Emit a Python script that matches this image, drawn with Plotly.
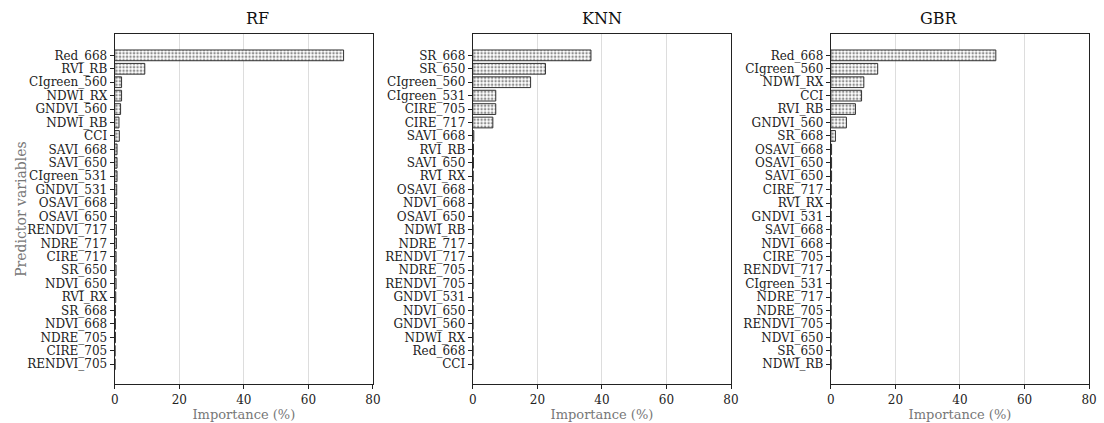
import plotly.graph_objects as go

rf_vars = ["Red_668", "RVI_RB", "CIgreen_560", "NDWI_RX", "GNDVI_560", "NDWI_RB", "CCI",
           "SAVI_668", "SAVI_650", "CIgreen_531", "GNDVI_531", "OSAVI_668", "OSAVI_650",
           "RENDVI_717", "NDRE_717", "CIRE_717", "SR_650", "NDVI_650", "RVI_RX", "SR_668",
           "NDVI_668", "NDRE_705", "CIRE_705", "RENDVI_705"]
rf_vals = [70.9, 9.3, 2.1, 2.1, 1.8, 1.3, 1.4, 0.7, 0.7, 0.7, 0.6, 0.6, 0.5, 0.5, 0.5,
           0.4, 0.4, 0.4, 0.3, 0.2, 0.2, 0.2, 0.1, 0.1]

knn_vars = ["SR_668", "SR_650", "CIgreen_560", "CIgreen_531", "CIRE_705", "CIRE_717",
            "SAVI_668", "RVI_RB", "SAVI_650", "RVI_RX", "OSAVI_668", "NDVI_668", "OSAVI_650",
            "NDWI_RB", "NDRE_717", "RENDVI_717", "NDRE_705", "RENDVI_705", "GNDVI_531",
            "NDVI_650", "GNDVI_560", "NDWI_RX", "Red_668", "CCI"]
knn_vals = [36.6, 22.5, 17.9, 7.1, 7.1, 6.2, 0.3, 0.2, 0.2, 0.1, 0.1, 0.1, 0.1, 0.05,
            0.05, 0.05, 0.05, 0.05, 0.05, 0.05, 0.05, 0.05, 0.05, 0.05]

gbr_vars = ["Red_668", "CIgreen_560", "NDWI_RX", "CCI", "RVI_RB", "GNDVI_560", "SR_668",
            "OSAVI_668", "OSAVI_650", "SAVI_650", "CIRE_717", "RVI_RX", "GNDVI_531",
            "SAVI_668", "NDVI_668", "CIRE_705", "RENDVI_717", "CIgreen_531", "NDRE_717",
            "NDRE_705", "RENDVI_705", "NDVI_650", "SR_650", "NDWI_RB"]
gbr_vals = [51.1, 14.5, 10.2, 9.5, 7.6, 4.8, 1.4, 0.2, 0.2, 0.2, 0.1, 0.1, 0.1, 0.1,
            0.05, 0.05, 0.05, 0.05, 0.05, 0.05, 0.05, 0.05, 0.05, 0.05]

titles = ["RF", "KNN", "GBR"]
x_ticks = [0, 20, 40, 60, 80]

panels = [(rf_vars, rf_vals), (knn_vars, knn_vals), (gbr_vars, gbr_vals)]
domains = [(112 / 1104, 373 / 1104), (474 / 1104, 735 / 1104), (836 / 1104, 1097 / 1104)]

FONT = "DejaVu Serif"
fig = go.Figure()
n = len(rf_vars)
for i, ((cats, vals), dom, title) in enumerate(zip(panels, domains, titles)):
    sfx = "" if i == 0 else str(i + 1)
    fig.add_trace(go.Bar(
        x=vals, y=list(range(n)), orientation="h", width=0.8,
        xaxis="x" + sfx, yaxis="y" + sfx,
        marker=dict(color="white",
                    line=dict(color="#333333", width=1),
                    pattern=dict(shape=".", fgcolor="#222222", bgcolor="white",
                                 size=3.5, solidity=0.4)),
        showlegend=False,
    ))
    fig.layout["xaxis" + sfx] = dict(
        domain=list(dom), anchor="y" + sfx, range=[0, 80], tickvals=x_ticks,
        ticks="outside", ticklen=4, tickcolor="#222", showline=True, mirror=True,
        linecolor="#222", linewidth=1.3, showgrid=True, gridcolor="#dddddd", gridwidth=1,
        zeroline=False, tickfont=dict(family=FONT, size=12, color="#222"),
        title=dict(text="Importance (%)", font=dict(family=FONT, size=13, color="#777"),
                   standoff=4),
    )
    fig.layout["yaxis" + sfx] = dict(
        domain=[0, 1], anchor="x" + sfx, range=[24.47, -1.59], tickmode="array",
        tickvals=list(range(n)), ticktext=cats, ticks="outside", ticklen=4,
        tickcolor="#222", showline=True, mirror=True, linecolor="#222", linewidth=1.3,
        showgrid=False, zeroline=False, tickfont=dict(family=FONT, size=12, color="#222"),
    )
    fig.add_annotation(text=title, x=(dom[0] + dom[1]) / 2, y=1, xref="paper", yref="paper",
                       yanchor="bottom", yshift=4, showarrow=False,
                       font=dict(family=FONT, size=16, color="#111"))

fig.add_annotation(text="Predictor variables", x=17 / 1104, y=0.5, xref="paper", yref="paper",
                   textangle=-90, showarrow=False, xanchor="center", yanchor="middle",
                   font=dict(family=FONT, size=14, color="#777"))

fig.update_layout(
    width=1104, height=423, margin=dict(l=0, r=0, t=34, b=39),
    paper_bgcolor="white", plot_bgcolor="white", bargap=0.2,
    font=dict(family=FONT),
)
fig.write_html("out.html")
